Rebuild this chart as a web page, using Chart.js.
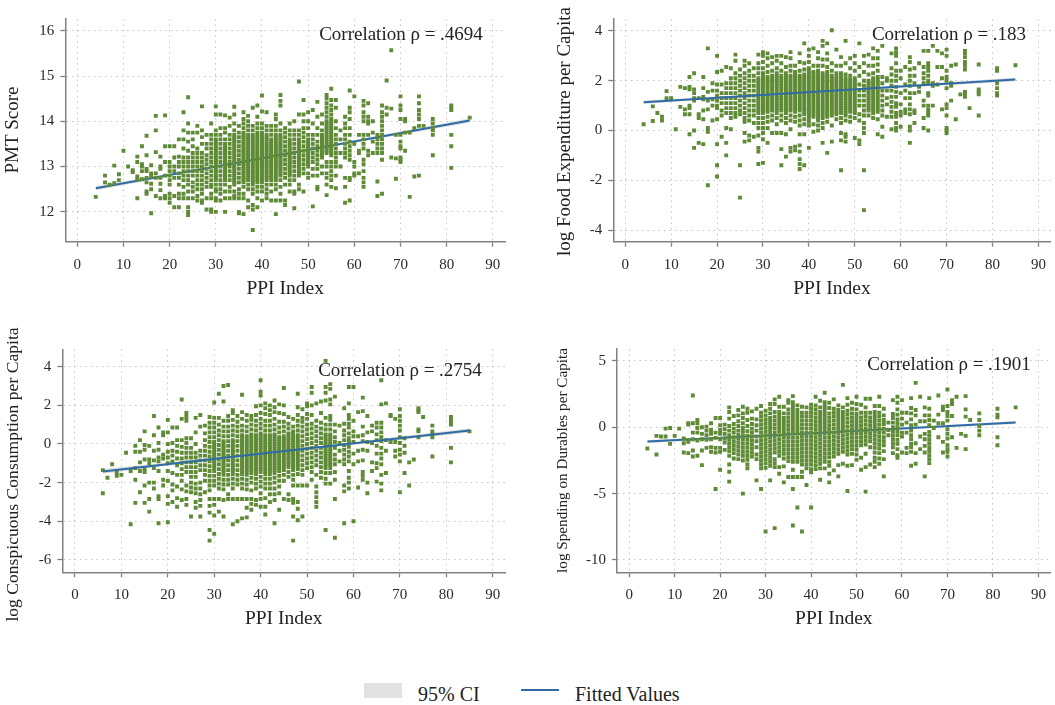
<!DOCTYPE html>
<html><head><meta charset="utf-8">
<script src="https://cdn.jsdelivr.net/npm/chart.js@4"></script>
<style>
html,body{margin:0;padding:0;background:#fff;}
#page{position:relative;width:1055px;height:705px;overflow:hidden;font-family:"Liberation Serif",serif;color:#222;}
canvas{position:absolute;}
.lg{position:absolute;}
.lt{position:absolute;font-size:20px;line-height:22px;white-space:nowrap;}
</style></head><body>
<div id="page">
<div class="lg" style="left:364px;top:683px;width:38px;height:15px;background:#e1e1e1"></div>
<div class="lt" style="left:418px;top:683px">95% CI</div>
<div class="lg" style="left:521px;top:689px;width:38px;height:2px;background:#2f6ca6"></div>
<div class="lt" style="left:575px;top:683px">Fitted Values</div>
</div>
<script>
const ppiTicks=[0,10,20,30,40,50,60,70,80,90];
const pmtTicks=[12,13,14,15,16];
const foodTicks=[-4,-2,0,2,4];
const conspTicks=[-6,-4,-2,0,2,4];
const durTicks=[-10,-5,0,5];

const fitX=[4,37,85];
const fitXConsp=[6,37,85];
const pmtFit=[12.52,13.13,14.02];
const pmtLow=[12.47,13.12,13.97];
const pmtHigh=[12.57,13.14,14.07];
const foodFit=[1.13,1.51,2.05];
const foodLow=[1.06,1.49,1.97];
const foodHigh=[1.2,1.53,2.13];
const conspFit=[-1.42,-.58,.7];
const conspLow=[-1.54,-.62,.58];
const conspHigh=[-1.3,-.54,.82];
const durFit=[-1.08,-.5,.36];
const durLow=[-1.2,-.54,.24];
const durHigh=[-.96,-.46,.48];

const pmtScore={4:[12.33],6:[12.65,12.8],7:[12.6],8:[12.63,13.02],9:[12.7,12.83],10:[13.35],11:[13],12:[12.92,12.88],13:[12.3,12.72,12.78,13.1,13.22],14:[12.72,12.9,13,13.05,13.45],15:[12.4,12.45,12.65,12.75,12.9,12.95,13.25,13.68],16:[11.97,12.5,12.62,12.8,12.85,13.03],17:[12.35,12.75,12.85,13.32,13.8,14.12],18:[12.3,12.48,12.62,12.75,12.95,13,13.22],19:[12.3,12.35,12.8,13.1,13.45,14.13],
20:[12.2,12.3,12.4,12.6,12.7,12.8,12.9,13,13.1,13.45],21:[12.1,12.35,12.75,12.9,13,13.2,13.45],22:[12.1,12.3,12.4,12.6,12.75,12.85,13,13.1,13.22,13.6],23:[12.3,12.4,12.55,12.7,12.8,12.9,13,13.1,13.2,13.4,13.6,13.8,14.2],24:[11.93,12,12.1,12.3,12.45,12.6,12.7,12.8,12.9,13,13.1,13.2,13.35,13.55,13.75,13.95,14.53],
25:[12.3,12.45,12.55,12.65,12.8,12.9,13,13.1,13.2,13.3,13.45,13.6,13.75],26:[12.25,12.35,12.5,12.6,12.7,12.8,12.9,13,13.1,13.2,13.3,13.4,13.75,13.9],27:[12.2,12.25,12.4,12.5,12.6,12.7,12.8,12.9,13,13.1,13.2,13.3,13.5,13.65,13.8,14.33],28:[12.05,12.3,12.55,12.65,12.75,12.85,12.95,13.05,13.15,13.25,13.4,13.5,13.7],
29:[12,12.05,12.3,12.4,12.55,12.6,12.7,12.8,12.9,13,13.1,13.2,13.3,13.4,13.5,13.6,13.7,13.95],30:[12,12.25,12.3,12.45,12.5,12.6,12.7,12.8,12.9,13,13.1,13.2,13.3,13.4,13.5,13.6,13.7,13.8,14.15,14.33],31:[12.25,12.4,12.5,12.6,12.7,12.8,12.9,13,13.1,13.2,13.3,13.4,13.5,13.6,13.7,13.85,14.15],32:[12,12.3,12.45,12.6,12.7,12.8,12.9,13,13.1,13.2,13.3,13.4,13.5,13.6,13.75,13.85,14.13],33:[12.3,12.45,12.55,12.7,12.8,12.9,13,13.1,13.2,13.3,13.4,13.5,13.6,13.7,13.9,14.08],34:[12.3,12.35,12.45,12.6,12.7,12.8,12.9,13,13.1,13.2,13.3,13.4,13.5,13.6,13.7,13.8,13.95,14.15,14.32],35:[11.97,12,12.3,12.4,12.5,12.65,12.75,12.85,12.95,13.05,13.15,13.25,13.35,13.45,13.55,13.65,13.75,13.9],
36:[11.95,12.3,12.4,12.55,12.65,12.75,12.85,12.95,13.05,13.15,13.25,13.35,13.45,13.55,13.65,13.75,13.85,13.95,14.05,14.2],37:[12.1,12.25,12.5,12.6,12.7,12.8,12.9,13,13.1,13.2,13.3,13.4,13.5,13.6,13.7,13.8,13.9,14,14.12],38:[11.6,12.05,12.15,12.4,12.5,12.6,12.7,12.8,12.9,13,13.1,13.2,13.3,13.4,13.5,13.6,13.7,13.8,13.9,14.3],39:[12.1,12.3,12.45,12.55,12.65,12.75,12.85,12.95,13.05,13.15,13.25,13.35,13.45,13.55,13.65,13.75,13.85,13.95,14.1,14.35],40:[12.25,12.45,12.55,12.65,12.75,12.85,12.95,13.05,13.15,13.25,13.35,13.45,13.55,13.65,13.75,13.85,13.95,14.22,14.57],
41:[12.3,12.4,12.5,12.6,12.7,12.8,12.9,13,13.1,13.2,13.3,13.4,13.5,13.6,13.7,13.8,13.9,14.2],42:[12.25,12.45,12.6,12.7,12.8,12.9,13,13.1,13.2,13.3,13.4,13.5,13.6,13.7,13.8,13.9],43:[11.95,12.25,12.5,12.6,12.7,12.8,12.9,13,13.1,13.2,13.3,13.4,13.5,13.6,13.7,13.8,13.9,14.05,14.15],44:[12.25,12.4,12.55,12.7,12.8,12.9,13,13.1,13.2,13.3,13.4,13.5,13.6,13.7,13.8,13.95,14.35,14.45,14.58],45:[12.15,12.25,12.6,12.75,12.85,12.95,13.05,13.15,13.25,13.35,13.45,13.55,13.65,13.75,13.85],46:[12.45,12.6,12.7,12.8,12.9,13,13.1,13.2,13.3,13.4,13.5,13.6,13.7,13.8,13.95],47:[12.08,12.4,12.45,12.7,12.8,12.9,13,13.1,13.2,13.3,13.4,13.5,13.6,13.7,13.8,14],48:[12.5,12.6,12.8,12.9,13,13.1,13.2,13.3,13.4,13.5,13.6,13.7,13.8,14.15,14.88],49:[12.45,12.85,12.95,13.05,13.15,13.25,13.35,13.45,13.55,13.65,13.75,13.85,14,14.15,14.47],50:[12.75,12.85,13,13.1,13.2,13.3,13.4,13.5,13.6,13.7,13.85,14,14.2],51:[12.12,12.8,12.95,13.1,13.2,13.3,13.4,13.5,13.6,13.7,13.95,14.25],52:[12.5,12.55,12.8,12.95,13.05,13.15,13.25,13.35,13.45,13.55,13.7,13.85,14.1,14.43],53:[12.85,13,13.2,13.3,13.4,13.5,13.6,13.7,13.8,13.95,14.15],
54:[12.37,12.6,12.75,12.85,13,13.1,13.3,13.4,13.5,13.6,13.7,13.8,13.9,14,14.1,14.2,14.3,14.4,14.5,14.58],55:[12.55,12.7,12.8,12.9,13,13.1,13.25,13.35,13.45,13.55,13.65,13.75,13.85,13.95,14.05,14.15,14.25,14.35,14.47,14.72],56:[12.52,12.8,13,13.1,13.2,13.3,13.4,13.5,13.6,13.7,13.85,14,14.3,14.47],57:[13,13.3,13.6,13.8],58:[12.2,12.55,12.75,13.2,13.3,13.4,13.5,13.6,13.7,13.85,13.95,14.1],59:[12.25,12.7,12.75,13.15,13.25,13.35,13.45,13.55,13.7,13.85,14.05,14.2,14.3,14.68],60:[12.8,12.85,13,13.1,13.5,14.55],61:[12.85,13.3,13.35,13.7],62:[12.55,12.65,12.75,12.9,13.05,13.15,13.4,13.5,13.6,13.7,14,14.1,14.2,14.35,14.45],63:[13.25,13.35,13.7,13.95,14,14.1,14.4],64:[13.3,13.55,13.75,14],65:[12.35,12.67,13.3,13.4,13.5,13.6,13.7],66:[12.4,13.15,13.3,13.4,13.5,13.6,13.7,13.8,13.9,14,14.1,14.2,14.35],67:[14.15,14.3,14.9],68:[13.2,14.28,15.57],69:[12.73,13.18,13.7],70:[13.1,13.15,13.2,13.4,13.45,13.55,13.7,14.05,14.25,14.35,14.55],71:[13.35,13.75,14,14.05],72:[12.33,13.75],73:[12.78,13.85],74:[12.8,13.9,14.05,14.15,14.25,14.4,14.55],75:[13.9],77:[13.25,13.7,13.8,13.85,13.95,14.05],81:[12.97,13.45,13.7,14.25,14.3,14.35],85:[14.08]};
const pmtDense={30:[12.75,12.85,12.95,13.05,13.15,13.25,13.35,13.45,13.55],32:[12.75,12.85,12.95,13.05,13.15,13.25,13.35,13.45],34:[12.65,12.75,12.85,12.95,13.05,13.15,13.25,13.35,13.45,13.55,13.65],36:[12.7,12.8,12.9,13,13.1,13.2,13.3,13.4,13.5,13.6,13.7],37:[12.75,12.85,12.95,13.05,13.15,13.25,13.35,13.45,13.55,13.65],38:[12.65,12.75,12.85,12.95,13.05,13.15,13.25,13.35,13.45,13.55,13.65],39:[12.7,12.8,12.9,13,13.1,13.2,13.3,13.4,13.5,13.6,13.7],40:[12.7,12.8,12.9,13,13.1,13.2,13.3,13.4,13.5,13.6,13.7],41:[12.75,12.85,12.95,13.05,13.15,13.25,13.35,13.45,13.55,13.65],42:[12.75,12.85,12.95,13.05,13.15,13.25,13.35,13.45,13.55],43:[12.75,12.85,12.95,13.05,13.15,13.25,13.35,13.45,13.55,13.65],44:[12.85,12.95,13.05,13.15,13.25,13.35,13.45,13.55,13.65],46:[12.85,12.95,13.05,13.15,13.25,13.35,13.45,13.55],48:[12.85,12.95,13.05,13.15,13.25,13.35,13.45,13.55],50:[13.05,13.15,13.25,13.35,13.45,13.55],53:[13.25,13.35,13.45,13.55,13.65],54:[13.35,13.45,13.55,13.65,13.75,13.85,13.95],55:[13.3,13.4,13.5,13.6,13.7,13.8,13.9,14]};

const logFood={4:[.25],6:[.38,.97],7:[.7],8:[.4,.55],9:[1.3,1.58],10:[1.3],11:[.05],12:[.95,1.75],13:[.65,.85,1.7],14:[-.15,.65,.9,1,1.65,1.75,2.15],15:[-.7,0,1.2,1.3,1.5,1.65,2.3],16:[-.5,.5,.65,1.3],17:[-.55,.45,.8,1.25,1.35,1.7,2.15],18:[-2.2,-.05,.1,.85,1.2,1.55,3.3],19:[.4,1,1.25,1.6,1.9],
20:[-1.85,-1.4,-.55,.45,.9,1,1.2,1.4,1.6,1.85,2.35,3],21:[-.25,.6,.8,1.1,1.3,1.5,1.85,2.4],22:[-1,-.5,.1,.7,.9,1.1,1.3,1.5,1.7,1.9,2.55],23:[.05,.5,.7,.9,1.1,1.3,1.5,1.7,1.9,2.1,2.5],24:[.55,.7,.9,1.1,1.3,1.5,1.7,1.9,2.1,2.3,2.8,3.05],25:[-2.7,-1.4,.65,.8,1,1.2,1.4,1.6,1.8,2,2.2,2.45],26:[-.45,-.1,.35,.5,.7,.9,1.1,1.3,1.5,1.7,1.9,2.1,2.3,2.6,2.8],27:[-.4,-.2,.4,.6,.8,1,1.2,1.4,1.6,1.8,2,2.2,2.4,2.7],28:[-.25,.3,.6,.8,1,1.2,1.4,1.6,1.8,2,2.2,2.5],
29:[-1.35,-.85,-.7,-.2,.1,.3,.5,.7,.9,1.1,1.3,1.5,1.7,1.9,2.1,2.3,2.5,2.7,3.05],30:[-1.3,-.35,-.1,.1,.3,.5,.7,.9,1.1,1.3,1.5,1.7,1.9,2.1,2.3,2.5,2.75,3,3.15],31:[-.5,.1,.35,.55,.75,.95,1.15,1.35,1.55,1.75,1.95,2.15,2.35,2.6,2.9,3.1],32:[-.1,.4,.6,.8,1,1.2,1.4,1.6,1.8,2,2.2,2.4,2.7,2.95],33:[-.1,.25,.5,.7,.9,1.1,1.3,1.5,1.7,1.9,2.1,2.3,2.5,2.8,3],34:[-1.4,-.75,-.1,.4,.6,.8,1,1.2,1.4,1.6,1.8,2,2.2,2.4,2.7,3],35:[-1.05,-.15,.3,.5,.7,.9,1.1,1.3,1.5,1.7,1.9,2.1,2.3,2.55,2.95],
36:[-.7,-.85,.05,.4,.6,.8,1,1.2,1.4,1.6,1.8,2,2.2,2.4,2.6,2.9,3.15],37:[-.8,-.65,.35,.55,.75,.95,1.15,1.35,1.55,1.75,1.95,2.15,2.35,2.6],38:[-1.55,-1.35,-1.15,-.85,-.6,-.15,.2,.4,.6,.8,1,1.2,1.4,1.6,1.8,2,2.2,2.4,2.75,3.1],39:[-1.4,-.15,.25,.45,.65,.85,1.05,1.25,1.45,1.65,1.85,2.05,2.25,2.45,2.7,3.5],40:[-.7,.2,.35,.5,.7,.9,1.1,1.3,1.5,1.7,1.9,2.1,2.3,2.5,2.75,3,3.25],41:[-.05,.25,.55,.75,.95,1.15,1.35,1.55,1.75,1.95,2.15,2.35,2.6,3.3],42:[0,.2,.4,.6,.8,1,1.2,1.4,1.6,1.8,2,2.2,2.4,2.6,2.9,3.15],43:[-.5,.1,.3,.5,.7,.9,1.1,1.3,1.5,1.7,1.9,2.1,2.3,2.6,2.85,3.4,3.6],44:[-.9,.35,.55,.75,.95,1.15,1.35,1.55,1.75,1.95,2.15,2.35,2.55,2.85,3.1,3.5],45:[-.45,.2,.6,.8,1,1.2,1.4,1.6,1.8,2,2.2,2.4,2.7,4.03],46:[.45,.65,.85,1.05,1.25,1.45,1.65,1.85,2.05,2.3,2.6,3.25],47:[-1.6,-.4,-.1,.3,.5,.7,.9,1.1,1.3,1.5,1.7,1.9,2.1,2.3,2.6,2.95],48:[-.45,-.25,-.15,.4,.6,.8,1,1.2,1.4,1.6,1.8,2,2.25,2.7,3.6],49:[.35,.55,.75,.95,1.15,1.35,1.55,1.75,1.95,2.2,2.5,2.9],50:[-.3,.5,.7,.9,1.1,1.3,1.5,1.7,1.9,2.1,2.4,2.7,3],51:[-.4,-.55,.4,.65,1,1.2,1.4,1.6,1.85,2.2,2.55,3.5],52:[-3.2,-1.6,-.1,.1,.3,.6,.8,1,1.2,1.4,1.6,1.8,2,2.35,2.7,3],53:[.6,.8,1,1.2,1.4,1.6,1.8,2,2.25,2.6,3.05],54:[.5,.7,.9,1.1,1.3,1.5,1.7,1.9,2.1,2.3,2.6,2.9,3.3],55:[-.15,.45,.75,.95,1.15,1.35,1.55,1.75,1.95,2.15,2.4,2.65,2.9,3.2],56:[-.25,.15,.6,.8,1,1.2,1.4,1.6,1.9,2.15,3.4],
57:[.55,1.05,1.3,1.6,2,2.1],58:[.05,.55,.75,.95,1.15,1.35,1.6,1.8,2,2.25,2.5,3.1],59:[0,.1,.3,.55,.7,.95,1.1,1.35,1.55,1.75,2,2.2,2.4,2.7,3,3.15,3.3],60:[.15,.6,.75,1.05,1.5,2.1,2.4],61:[.7,.85,1.3,1.6,1.85,2.55],62:[-.5,0,.15,.65,.85,1.05,1.3,1.5,1.8,2,2.2,2.45,2.75,2.95],63:[.3,.7,.8,1.5,1.9,2.2,2.5],64:[1.55,1.75,2.7],65:[.1,.5,1,1.2,1.9,2.1,2.3,2.55,3.2],66:[0,.6,.7,.85,1,1.4,1.5,1.9,2,2.2,2.4,2.55,2.7,3.2],67:[1,1.8,1.9,3.4],68:[2.55,3.2,1.85],69:[.85,2.1,2.55,3.1],70:[-.1,0,.1,.6,.9,1.05,1.7,2,2.15,2.4,3,3.25],71:[1.2,1.8,1.9,2.6],72:[.45,2.65],73:[1.45],74:[1.35,1.45,1.55,2.45,2.6,2.75,2.95,3.1,3.2],75:[.9],77:[.6,1.45,1.55,1.65,2.65],81:[1.4,1.5,1.7,1.9,2.4,2.5],85:[2.62]};
const foodDense={29:[.8,1,1.2,1.4,1.6,1.8,2],30:[.8,1,1.2,1.4,1.6,1.8,2,2.2],31:[.85,1.05,1.25,1.45,1.65,1.85,2.05],32:[.9,1.1,1.3,1.5,1.7,1.9,2.1],33:[.8,1,1.2,1.4,1.6,1.8,2,2.2],34:[.9,1.1,1.3,1.5,1.7,1.9,2.1],35:[.8,1,1.2,1.4,1.6,1.8,2,2.2],36:[.9,1.1,1.3,1.5,1.7,1.9,2.1],37:[.85,1.05,1.25,1.45,1.65,1.85,2.05,2.25],38:[.9,1.1,1.3,1.5,1.7,1.9,2.1],39:[.75,.95,1.15,1.35,1.55,1.75,1.95,2.15],40:[.6,.8,1,1.2,1.4,1.6,1.8,2,2.2,2.4],41:[.65,.85,1.05,1.25,1.45,1.65,1.85,2.05,2.25],42:[.5,.7,.9,1.1,1.3,1.5,1.7,1.9,2.1,2.3],43:[.6,.8,1,1.2,1.4,1.6,1.8,2,2.2],44:[.65,.85,1.05,1.25,1.45,1.65,1.85,2.05,2.25],45:[.7,.9,1.1,1.3,1.5,1.7,1.9,2.1],46:[.75,.95,1.15,1.35,1.55,1.75,1.95,2.15],47:[.8,1,1.2,1.4,1.6,1.8,2,2.2],48:[.7,.9,1.1,1.3,1.5,1.7,1.9,2.1],49:[.85,1.05,1.25,1.45,1.65,1.85,2.05],50:[.8,1,1.2,1.4,1.6,1.8,2],53:[.9,1.1,1.3,1.5,1.7,1.9],54:[.8,1,1.2,1.4,1.6,1.8,2],55:[.85,1.05,1.25,1.45,1.65,1.85,2.05]};

const logConsp={6:[-1.35,-2.55],7:[-1.75],8:[-1.05],9:[-1.45,-1.65],10:[-1.6],11:[-.45],12:[-4.15,-1.4],13:[-3.05,-1.85,-1.25,-.4,-.1],14:[-2.5,-1.4,-.95,-.4,.2],15:[-3.05,-2.15,-1.45,-1.3,-.8,-.3,-.05,.65],16:[-3.5,-2.85,-2,-1,-.8,-.1],17:[-2.3,-2,-1.25,-.85,-.35,.45,1.45],18:[-4.1,-2.85,-2.7,-1.4,-.9,-.7,-.3,.05,.85],19:[-2.15,-1.85,-.75,-.55,.45,.6],
20:[-4.05,-3.1,-2.7,-1.9,-1.4,-1,-.7,-.4,0,.6,1.25],21:[-3,-2.4,-2.1,-1.5,-.9,-.6,-.35,.05,.85],22:[-3.25,-2.8,-2.2,-1.6,-1.1,-.75,-.4,-.1,.2,.85],23:[-2.9,-2.35,-1.9,-1.6,-1.3,-1,-.75,-.45,-.15,.2,1.3,2.3],24:[-3.15,-2.85,-2.45,-2.15,-1.45,-1.2,-.95,-.7,-.45,-.2,.05,.3,1.2,1.4,1.6],25:[-3.75,-2.5,-2.25,-2,-1.7,-1.45,-1.2,-.95,-.7,-.45,-.2,.3],26:[-3.3,-3,-2.55,-2.3,-2.05,-1.7,-1.45,-1.2,-.95,-.7,-.45,0,.6,1.35],27:[-3.75,-3.2,-2.9,-2.6,-2.3,-2,-1.35,-1.1,-.85,-.6,-.35,.9,1.5],28:[-2.5,-1.9,-1.6,-1.35,-1.1,-.85,-.6,-.35,-.1,.2,.55,.95],
29:[-5,-4.45,-3.55,-3.2,-2.85,-2.4,-2.15,-1.9,-1.65,-1.4,-1.15,-.9,-.65,-.4,-.15,.1,.35,.6,.85,1.1,1.4],30:[-4.65,-3.7,-3.15,-2.85,-2.15,-1.9,-1.65,-1.4,-1.15,-.9,-.65,-.4,-.15,.1,.35,.6,.85,1.1,1.35,2.15],31:[-3.5,-2.85,-2.3,-2.05,-1.8,-1.55,-1.3,-1.05,-.8,-.55,-.3,-.05,.2,.45,.7,1,1.35,2.6],32:[-3.75,-2.9,-2.35,-2.1,-1.85,-1.6,-1.35,-1.1,-.85,-.6,-.35,-.1,.15,.4,.65,.9,1.2,2.2,3],33:[-2.85,-2.6,-2.1,-1.85,-1.6,-1.35,-1.1,-.85,-.6,-.35,-.1,.15,.4,.65,.9,1.2,1.45,3.05],34:[-4.15,-2.85,-2.3,-2.05,-1.8,-1.55,-1.3,-1.05,-.8,-.55,-.3,-.05,.2,.45,.7,.95,1.25,1.6,1.75],35:[-4,-2.85,-2.1,-1.85,-1.6,-1.35,-1.1,-.85,-.6,-.35,-.1,.15,.4,.65,.9,1.15,1.45],36:[-3.85,-2.85,-2.3,-2.05,-1.8,-1.55,-1.3,-1.05,-.8,-.55,-.3,-.05,.2,.45,.7,.95,1.3,1.65,2.55],37:[-3.8,-3.3,-2.85,-2.35,-2.1,-1.85,-1.6,-1.35,-1.1,-.85,-.6,-.35,-.1,.15,.4,.65,.9,1.2,1.5],38:[-3.4,-3.1,-2.85,-2.4,-2,-1.75,-1.5,-1.25,-1,-.75,-.5,-.25,0,.25,.5,.75,1,1.25,1.45],39:[-3.15,-2.9,-2.3,-2.05,-1.8,-1.55,-1.3,-1.05,-.8,-.55,-.3,-.05,.2,.45,.7,.95,1.2,1.5,1.95],
40:[-3.25,-2.85,-2.55,-2.2,-1.95,-1.7,-1.45,-1.2,-.95,-.7,-.45,-.2,.05,.3,.55,.8,1.05,1.3,1.6,2,2.5,2.7,3.3],41:[-3.65,-3.25,-2.8,-2.3,-2.05,-1.8,-1.55,-1.3,-1.05,-.8,-.55,-.3,-.05,.2,.45,.7,.95,1.2,1.55,1.85,2.1],42:[-3,-2.6,-2.3,-2.05,-1.8,-1.55,-1.3,-1.05,-.8,-.55,-.3,-.05,.2,.45,.7,.95,1.2,1.5,1.75,2],43:[-4.1,-2.9,-2.6,-2.3,-2,-1.75,-1.5,-1.25,-1,-.75,-.5,-.25,0,.25,.5,.75,1,1.3,1.65,1.9,2.25],44:[-3.4,-2.55,-2.2,-1.9,-1.65,-1.4,-1.15,-.9,-.65,-.4,-.15,.1,.35,.6,.85,1.15,1.6,2.05],45:[-2.85,-1.9,-1.6,-1.35,-1.1,-.85,-.6,-.35,-.1,.15,.4,.65,.9,1.15,1.55,2,2.9],46:[-2.9,-2.6,-1.7,-1.45,-1.2,-.95,-.7,-.45,-.2,.05,.3,.55,.8,1.05,1.4],47:[-5,-3.75,-3.05,-2.85,-2.15,-1.85,-1.6,-1.35,-1.1,-.85,-.6,-.35,-.1,.15,.4,.65,.9,1.3],48:[-3.95,-3.35,-3,-2.15,-1.55,-1.3,-1.05,-.8,-.55,-.3,-.05,.2,.45,.7,.95,1.2,1.5,1.9,2.6],49:[-3.75,-2.15,-1.6,-1.35,-1.1,-.85,-.6,-.35,-.1,.15,.4,.65,.9,1.15,1.35,1.8],50:[-2.15,-1.25,-1,-.75,-.5,-.25,0,.25,.5,.75,1,1.3,1.55,1.95,2.1],51:[-1.85,-1.45,-1.2,-.95,-.7,-.45,-.2,.05,.3,.55,.8,1.05,1.5,2,2.65,2.95],52:[-3.25,-3,-2.75,-2.5,-2.2,-1.6,-1.1,-.85,-.6,-.35,-.1,.15,.4,.65,.9,1.2,2.1],53:[-1.75,-1.45,-1.2,-.95,-.7,-.45,-.2,.05,.3,.55,.8,1.1,1.6,2.2],
54:[-4.45,-2.05,-1.8,-1.5,-1.25,-1,-.75,-.5,-.25,0,.25,.5,.75,1,1.35,2.25,2.65,2.95,4.3],55:[-2.05,-1.5,-1.25,-1,-.75,-.5,-.25,0,.25,.5,.75,1,1.25,1.45,2.05,2.3,2.85,3.1],56:[-4.85,-2.85,-1.85,-1.45,-1.05,-.8,-.55,-.2,.1,.35,.65,1,2.45],57:[-.9,-.35,.05,.95],58:[-4.1,-2.45,-2.15,-1.05,-.8,-.55,-.3,-.05,.2,.45,.7,1.05,1.85],59:[-2.3,-2,-1.75,-1.4,-.9,-.65,-.4,-.15,.1,.3,.55,.85,1.05,1.3,1.5,2.1,2.95],60:[-4,-1.05,-.5,.1,.4,.65,1.2,2.95],61:[-2.25,-.9,-.35,.4,1.65],62:[-1.85,-1.65,-1.45,-.85,-.3,.15,.45,.9,1.7,2.4],63:[-2.55,-2,-.35,.1,.6,1.45],64:[-1.4,-.95,.05,.95,.65],65:[-1.95,-1.25,-1,-.5,-.1,.2,.5,.85,1.1],66:[-2.4,-2.05,-1.6,-1.05,-.75,-.5,-.2,.15,.35,.6,.85,1.1,2.05,3.3],67:[-1.5,-.35,.2,2.1],68:[1.5,.1,1.45],69:[-.65,-.35,.1,1.3],70:[-2.5,-.9,-.55,-.3,.05,.35,.7,.95,1.2,1.45,1.8],71:[-1.5,-.45,-.1,.3],72:[-2.15,-.95],73:[-.8],74:[.35,.65,.75,1.65,1.75,1.85],75:[1.4],77:[-.65,.35,.5,.65,.95],81:[-.95,-.2,1,1.15,1.3,1.4],85:[.65]};
const conspDense={30:[-1.25,-1,-.75,-.5,-.25,0],32:[-1.45,-1.2,-.95,-.7,-.45,-.2,.05],34:[-1.4,-1.15,-.9,-.65,-.4,-.15,.1],36:[-1.4,-1.15,-.9,-.65,-.4,-.15,.1,.35],37:[-1.45,-1.2,-.95,-.7,-.45,-.2,.05,.3],38:[-1.35,-1.1,-.85,-.6,-.35,-.1,.15,.4],39:[-1.4,-1.15,-.9,-.65,-.4,-.15,.1,.35],40:[-1.3,-1.05,-.8,-.55,-.3,-.05,.2,.45],41:[-1.4,-1.15,-.9,-.65,-.4,-.15,.1,.35],42:[-1.4,-1.15,-.9,-.65,-.4,-.15,.1,.35],43:[-1.35,-1.1,-.85,-.6,-.35,-.1,.15,.4],44:[-1.25,-1,-.75,-.5,-.25,0,.25],45:[-1.2,-.95,-.7,-.45,-.2,.05,.3],46:[-1.05,-.8,-.55,-.3,-.05,.2,.45],47:[-1.2,-.95,-.7,-.45,-.2,.05,.3,.55],48:[-1.15,-.9,-.65,-.4,-.15,.1,.35],54:[-1.1,-.85,-.6,-.35,-.1,.15,.4],55:[-1.1,-.85,-.6,-.35,-.1,.15,.4]};

const logDur={4:[-1.6],6:[-2.05,-.65],7:[-.7],8:[-.7,-.1],9:[-1.25,-.05],10:[-.65],11:[-.1],12:[-.85,-1.2,-1.9],13:[-1.95,-1.1,-.95,.2,.3],14:[-2.2,-1.75,-.9,-.4,.3,2.4],15:[-2.15,-1,-.4,-.05,.3,.55],16:[-2.85,-1.75,-.9,-.5,0],17:[-1.55,-.95,-.6,-.25,.05],18:[-1.85,-1.5,-.9,-.5,-.2,.3],19:[-4.65,-1.9,-1.55,-.8,-.4,.7],
20:[-3.2,-1.85,-1.55,-.9,-.5,-.2,.15,.7],21:[-1.7,-1.15,-.85,-.5,-.15,.2],22:[-4.1,-3.35,-2.8,-2.15,-1.8,-1.5,-1.2,-.9,-.6,-.25,.1,.65,1.15,1.5],23:[-2.35,-1.95,-1.65,-1.35,-1.05,-.75,-.4,-.1,.25,.85],24:[-2.4,-2.05,-1.75,-1.45,-1.15,-.85,-.55,-.25,.1,.45,.9,1.3],25:[-5,-2.5,-2.15,-1.85,-1.55,-1.25,-.95,-.65,-.35,-.05,.3,.7,1.05,1.55],26:[-3.1,-2.8,-2.45,-2.15,-1.85,-1.55,-1.25,-.95,-.65,-.3,.1,.55,1.1,1.4],27:[-2.2,-1.9,-1.6,-1.3,-1,-.7,-.4,-.1,.25,.65,1.2],28:[-4,-2.4,-2.05,-1.5,-1.05,-.7,-.25,.15,.6,1.4],
29:[-4.65,-3.1,-2.8,-2.5,-2.2,-1.9,-1.6,-1.3,-1,-.7,-.4,-.1,.2,.5,.8,1.1,1.6],30:[-7.85,-3.05,-2.7,-2.4,-2.1,-1.8,-1.5,-1.2,-.9,-.6,-.3,0,.3,.6,.9,1.25],31:[-4,-2.9,-2.6,-2.3,-2,-1.7,-1.4,-1.1,-.8,-.5,-.2,.1,.4,.7,1.05,1.4,1.75],32:[-7.6,-3,-2.7,-2.4,-1.9,-1.6,-1.3,-1,-.7,-.4,-.1,.2,.5,.8,1.15,1.75,2.1],33:[-3.5,-3,-2.15,-1.85,-1.55,-1.25,-.95,-.65,-.35,-.05,.25,.55,.85,1.15,1.55,2.3],34:[-4.15,-2.95,-2.35,-2,-1.7,-1.4,-1.1,-.8,-.5,-.2,.1,.4,.7,1.05,1.55],35:[-3.75,-2.55,-2.25,-1.95,-1.65,-1.35,-1.05,-.75,-.45,-.15,.15,.45,.75,1.05,1.35,1.85,2.05],
36:[-7.4,-4.65,-3.75,-3.2,-2.6,-2.3,-2,-1.7,-1.4,-1.1,-.8,-.5,-.2,.1,.4,.7,1,1.3,1.6,1.9,2.35],37:[-6.05,-3.75,-2.6,-2.3,-2,-1.7,-1.4,-1.1,-.8,-.5,-.2,.1,.4,.7,1,1.3,1.65],38:[-7.85,-3.75,-3.35,-2.8,-2.5,-2.2,-1.9,-1.6,-1.3,-1,-.7,-.4,-.1,.2,.5,.8,1.1,1.55],39:[-4.35,-3.1,-2.8,-2.5,-2.2,-1.9,-1.6,-1.3,-1,-.7,-.4,-.1,.2,.5,.8,1.1,1.5],40:[-6.05,-3.4,-3.15,-2.8,-2.5,-2.2,-1.9,-1.6,-1.3,-1,-.7,-.4,-.1,.2,.5,.8,1.1,1.4,1.7],41:[-3.15,-2.85,-2.55,-2.25,-1.95,-1.65,-1.35,-1.05,-.75,-.45,-.15,.15,.45,.75,1.05,1.35,1.65,2.3],42:[-3.95,-3.1,-2.75,-2.45,-2.15,-1.85,-1.55,-1.25,-.95,-.65,-.35,-.05,.25,.55,.85,1.15,1.5,2],43:[-3.1,-2.6,-2.3,-2,-1.7,-1.4,-1.1,-.8,-.5,-.2,.1,.4,.7,1,1.3,1.6,1.9,2.6],44:[-4.15,-3.5,-2.9,-2.6,-2.25,-1.95,-1.65,-1.35,-1.05,-.75,-.45,-.15,.15,.45,.75,1.05,1.45,1.85],45:[-3.25,-2.2,-1.9,-1.6,-1.3,-1,-.7,-.4,-.1,.2,.5,.8,1.1,1.4,2.1],46:[-3.7,-2.85,-2,-1.7,-1.4,-1.1,-.8,-.5,-.2,.1,.4,.7,1,1.3,1.65],47:[-2.75,-1.85,-1.55,-1.25,-.95,-.65,-.35,-.05,.25,.55,.85,1.15,1.5,3.2],48:[-4.8,-2.9,-2.05,-1.75,-1.45,-1.15,-.85,-.55,-.25,.05,.35,.65,.95,1.25,1.7,2.2],49:[-2.85,-2,-1.65,-1.35,-1.05,-.75,-.45,-.15,.15,.45,.75,1.05,1.4,1.85],50:[-2.45,-2.05,-1.7,-1.4,-1.1,-.8,-.5,-.2,.1,.4,.7,1,1.35,1.75,2.3],51:[-3.2,-2.3,-1.35,-1.05,-.75,-.45,-.15,.15,.45,.75,1.1,1.7],52:[-4.85,-3,-2,-1.3,-1,-.7,-.4,-.1,.2,.5,.8,1.1,1.5,2.15],53:[-2.8,-1.5,-1.05,-.75,-.45,-.15,.15,.45,.75,1.1,2.15],
54:[-3,-2.6,-2.3,-1.9,-1.55,-1.25,-.95,-.65,-.35,-.05,.25,.55,.85,1.15,1.6],55:[-2.75,-2.35,-1.95,-1.6,-1.3,-1,-.7,-.4,-.1,.2,.5,.8,1.1,1.6,2.3],56:[-3.7,-2.4,-1.8,-1.35,-1.05,-.75,-.4,-.1,.25,.55,.9,1.4],57:[-.6,-.2,.35],58:[-1.95,-1.5,-1.2,-.9,-.6,-.3,0,.35,.7,1,2.05],59:[-2.3,-2.1,-1.65,-1.25,-.95,-.6,-.3,0,.3,.6,.95,1.35,1.85,2.3],60:[-1.9,-.7,-.4,.2,.65,1.1,2.05],61:[-1.95,-1.55,-.4,.35,1.1],62:[-2.9,-1.85,-1.5,-1.25,-.9,-.6,-.25,.15,.6,1.05,1.45,2.2],63:[-2.75,-1.95,-1.2,.2,.9,1.3,3.35],64:[-1.65,-.7,.45,2.3],65:[-3.7,-1.9,-1.4,-.9,-.5,.45,.9,1.5],66:[-2.7,-2.4,-2.1,-1.8,-1.55,-1.25,-.95,-.65,-.35,.15,.55,.9,1.4,2.2],67:[.5,-.05],68:[-.75,.3,.95,2.4],69:[-1.9,-1.1,.3,1.3,1.55],70:[-2.2,-1.85,-1.65,-1.35,-.85,-.5,-.15,.5,.85,1.15,1.6,2.85],71:[-.75,.85,1.75,2.05],72:[-1.55,2.3],73:[-.5],74:[-1.65,-.65,.8,1.35,2.35],75:[.55],77:[-.6,-.25,.1,.55,1.05],81:[-1.35,-.75,.75,.95,1.4],85:[1.5]};

const POINT_COLOR='#5f8a36';
const LINE_COLOR='#2f6ca6';
const BAND_COLOR='#dedede';
const FONT='"Liberation Serif", serif';

function toPoints(...sets){const out=[];for(const cols of sets){for(const k of Object.keys(cols)){for(const y of cols[k])out.push({x:+k,y});}}return out;}
function zip(xs,ys){return xs.map((x,i)=>({x,y:ys[i]}));}

const panelDefs=[
 {id:'p1',pts:toPoints(pmtScore,pmtDense),fx:fitX,fit:pmtFit,lo:pmtLow,hi:pmtHigh,yt:pmtTicks,lineTop:false,
  box:[0,0,527,303],plot:[65.3,19,505,241.7],xr:[-2.6,92.64],yr:[11.34,16.26],
  yTitle:'PMT Score',ytFont:19,ytPos:[13,130],corr:'Correlation ρ = .4694',corrPos:[401,35]},
 {id:'p2',pts:toPoints(logFood,foodDense),fx:fitX,fit:foodFit,lo:foodLow,hi:foodHigh,yt:foodTicks,lineTop:true,
  box:[527,0,528,303],plot:[613.3,19,1054,241.7],xr:[-2.6,92.67],yr:[-4.47,4.48],
  yTitle:'log Food Expenditure per Capita',ytFont:19,ytPos:[565,131.5],corr:'Correlation ρ = .183',corrPos:[949,35]},
 {id:'p3',pts:toPoints(logConsp,conspDense),fx:fitXConsp,fit:conspFit,lo:conspLow,hi:conspHigh,yt:conspTicks,lineTop:true,
  box:[0,320,527,313],plot:[62.3,349.3,505,572.3],xr:[-2.73,92.65],yr:[-6.64,4.9],
  yTitle:'log Conspicuous Consumption per Capita',ytFont:17.6,ytPos:[13,474.5],corr:'Correlation ρ = .2754',corrPos:[400,371]},
 {id:'p4',pts:toPoints(logDur),fx:fitX,fit:durFit,lo:durLow,hi:durHigh,yt:durTicks,lineTop:false,
  box:[527,320,528,313],plot:[617,349,1054,572.3],xr:[-2.68,92.69],yr:[-10.93,5.9],
  yTitle:'log Spending on Durables per Capita',ytFont:15.2,ytPos:[563,460.5],corr:'Correlation ρ = .1901',corrPos:[949,365]}
];

const textPlugin={id:'panelText',afterDraw(chart,args,o){
 const c=chart.ctx;c.save();c.fillStyle='#222';c.textAlign='center';c.textBaseline='middle';
 c.font='19px '+FONT;c.fillText(o.corr,o.corrPos[0]-o.box[0],o.corrPos[1]-o.box[1]);
 c.translate(o.ytPos[0]-o.box[0],o.ytPos[1]-o.box[1]);c.rotate(-Math.PI/2);
 c.font=o.ytFont+'px '+FONT;c.fillText(o.yTitle,0,0);c.restore();
}};

const page=document.getElementById('page');
for(const d of panelDefs){
 const cv=document.createElement('canvas');
 const [bx,by,bw,bh]=d.box;
 cv.width=bw;cv.height=bh;cv.style.cssText=`left:${bx}px;top:${by}px;width:${bw}px;height:${bh}px`;
 page.appendChild(cv);
 const [pl,pt,pr,pb]=d.plot;
 const ax={color:'#c4c4c4',lineWidth:1,tickColor:'#808080',tickWidth:1.3,tickLength:5};
 new Chart(cv,{type:'scatter',
  data:{datasets:[
   {label:'PPI observations',data:d.pts,backgroundColor:POINT_COLOR,borderWidth:0,pointStyle:'rect',pointRadius:2.75,order:2},
   {label:'Fitted Values',data:zip(d.fx,d.fit),showLine:true,borderColor:LINE_COLOR,borderWidth:2,pointRadius:0,order:d.lineTop?1:3},
   {label:'95% CI upper',data:zip(d.fx,d.hi),showLine:true,borderWidth:0,borderColor:'rgba(0,0,0,0)',backgroundColor:BAND_COLOR,pointRadius:0,fill:'+1',order:4},
   {label:'95% CI lower',data:zip(d.fx,d.lo),showLine:true,borderWidth:0,borderColor:'rgba(0,0,0,0)',pointRadius:0,order:5}
  ]},
  options:{responsive:false,animation:false,devicePixelRatio:1,
   layout:{padding:{top:pt-by,right:bx+bw-pr,left:0,bottom:0}},
   plugins:{legend:{display:false},tooltip:{enabled:false},panelText:{corr:d.corr,corrPos:d.corrPos,yTitle:d.yTitle,ytFont:d.ytFont,ytPos:d.ytPos,box:d.box}},
   scales:{
    x:{type:'linear',position:'bottom',min:d.xr[0],max:d.xr[1],
     grid:ax,border:{color:'#808080',width:1.5,dash:[1.5,4]},
     ticks:{autoSkip:false,maxRotation:0,color:'#2a2a2a',font:{family:FONT,size:15},padding:9,callback:v=>String(v)},
     title:{display:true,text:'PPI Index',color:'#222',font:{family:FONT,size:19.5},padding:{top:0,bottom:2}},
     afterBuildTicks:s=>{s.ticks=ppiTicks.map(value=>({value}));},
     afterFit:s=>{s.height=by+bh-pb;}},
    y:{type:'linear',position:'left',min:d.yr[0],max:d.yr[1],
     grid:ax,border:{color:'#808080',width:1.5,dash:[1.5,4]},
     ticks:{autoSkip:false,color:'#2a2a2a',font:{family:FONT,size:15},padding:6,callback:v=>String(v)},
     afterBuildTicks:s=>{s.ticks=d.yt.map(value=>({value}));},
     afterFit:s=>{s.width=pl-bx;}}
   }},
  plugins:[textPlugin]});
}
</script>
</body></html>
